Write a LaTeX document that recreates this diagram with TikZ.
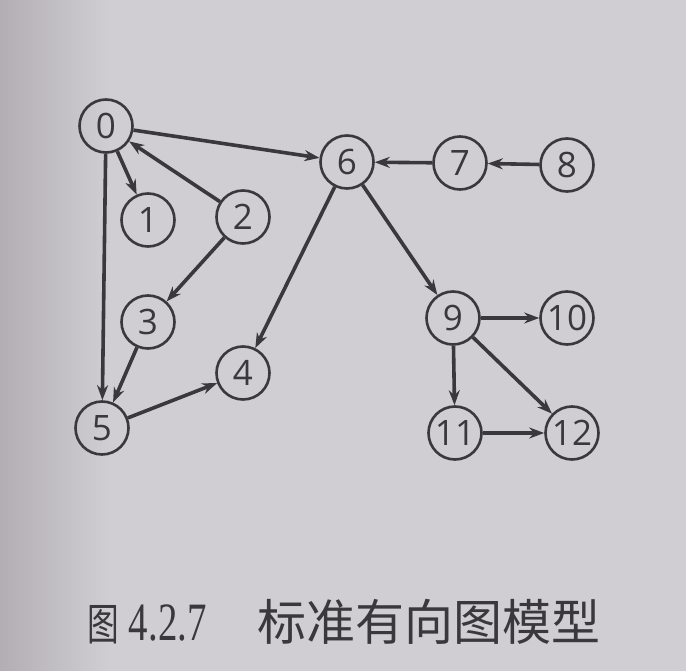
\documentclass[tikz,border=0pt]{standalone}
\usepackage{fontspec}
\setmainfont{Liberation Serif}
\newfontfamily\digitfont{Open Sans}
\newfontfamily\serifnum{Liberation Serif}
\newfontfamily\cjk{Noto Sans CJK SC}
\usetikzlibrary{arrows.meta}
\definecolor{paper}{RGB}{208,206,211}
\definecolor{paperdark}{RGB}{178,174,180}
\definecolor{ink}{RGB}{58,56,58}
\begin{document}
\begin{tikzpicture}[x=1pt,y=-1pt,
  vtx/.style={circle,draw=ink,line width=2.6pt,minimum size=53pt,inner sep=0pt,text=ink,font=\digitfont\fontsize{35}{35}\selectfont},
  edge/.style={draw=ink,line width=3.6pt,-{Stealth[length=15pt,width=11pt]}}]
\fill[paper] (0,0) rectangle (686,671);
\shade[left color=paperdark,right color=paper] (0,0) rectangle (110,671);
\useasboundingbox (0,0) rectangle (686,671);
\node[vtx] (n0) at (106,126) {0};
\node[vtx] (n1) at (148,220) {1};
\node[vtx] (n2) at (243,217) {2};
\node[vtx] (n3) at (148,322) {3};
\node[vtx] (n4) at (243,373) {4};
\node[vtx] (n5) at (102,428) {5};
\node[vtx] (n6) at (347,162) {6};
\node[vtx] (n7) at (460,163) {7};
\node[vtx] (n8) at (567,165) {8};
\node[vtx] (n9) at (453,318) {9};
\node[vtx] (n10) at (567,318) {10};
\node[vtx] (n11) at (455,433) {11};
\node[vtx] (n12) at (572,433) {12};
\draw[edge] (n0) -- (n6);
\draw[edge] (n0) -- (n1);
\draw[edge] (n2) -- (n0);
\draw[edge] (n0) -- (n5);
\draw[edge] (n2) -- (n3);
\draw[edge] (n3) -- (n5);
\draw[edge] (n5) -- (n4);
\draw[edge] (n6) -- (n4);
\draw[edge] (n6) -- (n9);
\draw[edge] (n7) -- (n6);
\draw[edge] (n8) -- (n7);
\draw[edge] (n9) -- (n10);
\draw[edge] (n9) -- (n11);
\draw[edge] (n9) -- (n12);
\draw[edge] (n11) -- (n12);
\node[text=ink,anchor=west,inner sep=0pt] (cap) at (87,622) {\scalebox{0.72}[1]{\cjk\fontsize{44}{44}\selectfont 图}\hspace{10pt}\scalebox{0.72}[1]{\serifnum\fontsize{54}{54}\selectfont 4.2.7}\hspace{51pt}{\cjk\fontsize{49}{49}\selectfont 标准有向图模型}};
\end{tikzpicture}
\end{document}
